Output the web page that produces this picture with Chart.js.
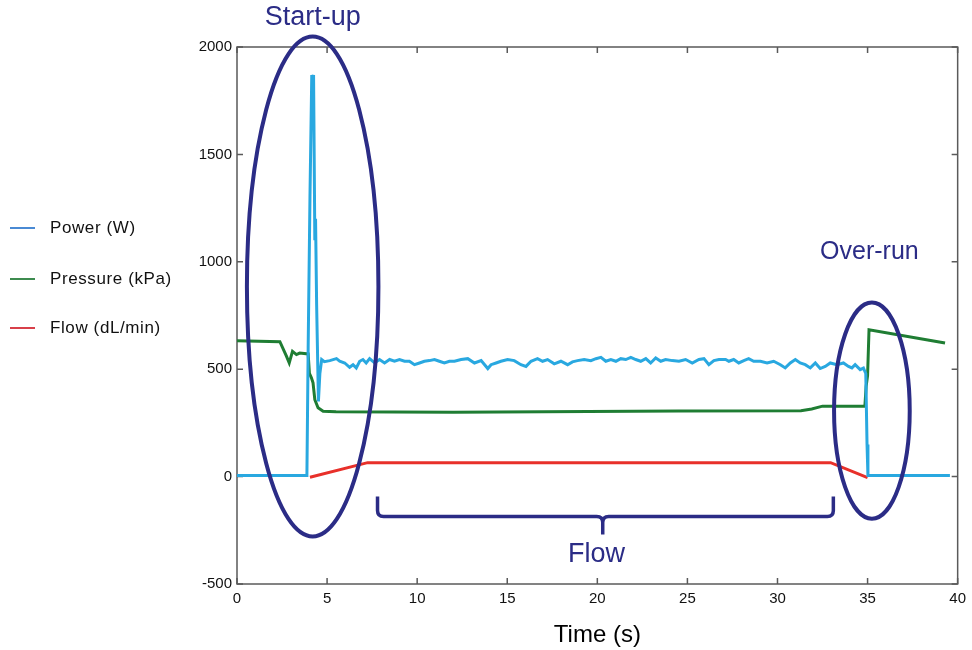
<!DOCTYPE html>
<html>
<head>
<meta charset="utf-8">
<script src="https://cdn.jsdelivr.net/npm/chart.js@4.4.1/dist/chart.umd.min.js"></script>
<style>
  html, body { margin: 0; padding: 0; background: #fff; }
  #wrap { position: relative; width: 972px; height: 650px; }
  #legend { position: absolute; left: 0; top: 0; font-family: "Liberation Sans", Arial, sans-serif;
            font-size: 17px; letter-spacing: 0.6px; color: #111; }
  .item { position: absolute; left: 10px; height: 20px; display: flex; align-items: center; white-space: nowrap; }
  .swatch { width: 25px; height: 2px; margin-right: 15px; }
</style>
</head>
<body>
<div id="wrap">
  <canvas id="chart" width="972" height="650"></canvas>
  <div id="legend"></div>
</div>
<script>
// ── Data ─────────────────────────────────────────────────────────
const xTicks = [0, 5, 10, 15, 20, 25, 30, 35, 40];
const yTicks = [-500, 0, 500, 1000, 1500, 2000];

const seriesNames = ['Power (W)', 'Pressure (kPa)', 'Flow (dL/min)'];

const powerTime = [
  0, 3.88, 3.95, 4.05, 4.15, 4.2, 4.25, 4.32, 4.36, 4.42,
  4.52, 4.6, 4.7, 4.85, 5.15, 5.52, 5.70, 5.98, 6.25, 6.44,
  6.62, 6.81, 6.99, 7.17, 7.36, 7.64, 7.91, 8.19, 8.47, 8.74,
  9.02, 9.30, 9.57, 9.85, 10.13, 10.40, 10.68, 10.96, 11.23, 11.51,
  11.79, 12.07, 12.44, 12.81, 13.18, 13.55, 13.92, 14.10, 14.38, 14.65,
  15.02, 15.39, 15.76, 16.04, 16.32, 16.68, 16.96, 17.24, 17.61, 17.98,
  18.35, 18.62, 18.90, 19.27, 19.64, 19.92, 20.20, 20.47, 20.75, 21.03,
  21.30, 21.58, 21.86, 22.13, 22.41, 22.69, 22.96, 23.24, 23.52, 23.79,
  24.16, 24.53, 24.90, 25.27, 25.64, 25.92, 26.19, 26.47, 26.75, 27.12,
  27.30, 27.57, 27.85, 28.13, 28.40, 28.68, 29.05, 29.42, 29.79, 30.16,
  30.43, 30.71, 30.99, 31.26, 31.54, 31.82, 32.10, 32.37, 32.65, 32.93,
  33.30, 33.66, 33.94, 34.13, 34.31, 34.59, 34.77, 34.90, 34.97, 35.02,
  39.57
];
const powerValue = [
  5, 5, 600, 1300, 1870, 1750, 1870, 1100, 1200, 800,
  350, 480, 545, 535, 540, 549, 537, 529, 509, 521,
  506, 537, 545, 529, 549, 529, 545, 529, 545, 537,
  545, 537, 537, 521, 529, 537, 540, 545, 537, 529,
  537, 537, 545, 549, 529, 540, 503, 521, 529, 537,
  545, 540, 521, 513, 537, 549, 537, 545, 525, 537,
  521, 534, 540, 545, 540, 549, 555, 537, 545, 537,
  549, 545, 555, 545, 537, 549, 529, 552, 537, 545,
  540, 537, 545, 529, 545, 549, 521, 540, 545, 545,
  537, 545, 529, 540, 549, 537, 537, 529, 537, 521,
  506, 529, 545, 529, 521, 506, 529, 503, 513, 529,
  521, 529, 513, 506, 521, 498, 505, 480, 150, 5,
  5
];

const pressureTime  = [0, 2.38, 2.75, 2.90, 3.08, 3.30, 3.48, 3.95, 4.02, 4.13, 4.22, 4.32, 4.50, 4.78, 5.5, 12.0, 24.5, 31.3, 31.9, 32.5, 33.0, 34.85, 34.92, 35.0, 35.08, 39.3];
const pressureValue = [633, 628, 560, 529, 583, 568, 575, 571, 480, 460, 437, 358, 320, 304, 302, 300, 305, 307, 315, 328, 327, 327, 420, 470, 684, 622];

const flowTime  = [4.05, 7.25, 32.95, 35.0];
const flowValue = [-3, 65, 65, -5];

const lineColors   = ['#29a8e0', '#1f7d33', '#e8302a'];
const legendColors = ['#4a8ad4', '#3d8b4f', '#d8404a'];
const NAVY = '#2b2c86';

// annotation shapes, in data units
const ellipses = [
  { t: 4.2, v: 885, dt: 3.65, dv: 1164 },   // start-up
  { t: 35.24, v: 307, dt: 2.1, dv: 503 },   // over-run
];
const brace = { t0: 7.8, t1: 33.1, tMid: 20.3, vTop: -93, vBar: -186, vTip: -270 };
const notes = [
  { text: 'Start-up', t: 4.2, v: 2137, size: 27 },
  { text: 'Over-run', t: 35.1, v: 1045, size: 25 },
  { text: 'Flow', t: 19.95, v: -363, size: 27 },
];

// ── Helpers ──────────────────────────────────────────────────────
const zip = (xs, ys) => xs.map((x, i) => ({ x, y: ys[i] }));

function lineSet(label, xs, ys, color) {
  return {
    label, data: zip(xs, ys),
    borderColor: color, backgroundColor: color,
    borderWidth: 3, pointRadius: 0, tension: 0, fill: false,
  };
}

// box frame + inward MATLAB-style ticks
const framePlugin = {
  id: 'frame',
  beforeDatasetsDraw(chart) {
    const { ctx, chartArea: a, scales: { x, y } } = chart;
    ctx.save();
    ctx.strokeStyle = '#5a5a5a';
    ctx.lineWidth = 1.5;
    ctx.strokeRect(a.left, a.top, a.right - a.left, a.bottom - a.top);
    const len = 6;
    ctx.beginPath();
    xTicks.forEach(t => {
      const px = x.getPixelForValue(t);
      ctx.moveTo(px, a.bottom); ctx.lineTo(px, a.bottom - len);
      ctx.moveTo(px, a.top); ctx.lineTo(px, a.top + len);
    });
    yTicks.forEach(v => {
      const py = y.getPixelForValue(v);
      ctx.moveTo(a.left, py); ctx.lineTo(a.left + len, py);
      ctx.moveTo(a.right, py); ctx.lineTo(a.right - len, py);
    });
    ctx.stroke();
    ctx.restore();
  },
};

const annotationPlugin = {
  id: 'notes',
  afterDatasetsDraw(chart) {
    const { ctx, scales: { x, y } } = chart;
    ctx.save();
    ctx.strokeStyle = NAVY;
    ctx.lineWidth = 4;
    for (const e of ellipses) {
      const cx = x.getPixelForValue(e.t), cy = y.getPixelForValue(e.v);
      const rx = x.getPixelForValue(e.t + e.dt) - cx;
      const ry = cy - y.getPixelForValue(e.v + e.dv);
      ctx.beginPath();
      ctx.ellipse(cx, cy, rx, ry, 0, 0, Math.PI * 2);
      ctx.stroke();
    }

    // curly brace under the flow phase
    const x0 = x.getPixelForValue(brace.t0), x1 = x.getPixelForValue(brace.t1);
    const xm = x.getPixelForValue(brace.tMid);
    const yt = y.getPixelForValue(brace.vTop), yb = y.getPixelForValue(brace.vBar);
    const yTip = y.getPixelForValue(brace.vTip);
    const r = 6;
    ctx.lineWidth = 3.5;
    ctx.lineJoin = 'round';
    ctx.beginPath();
    ctx.moveTo(x0, yt);
    ctx.lineTo(x0, yb - r);
    ctx.quadraticCurveTo(x0, yb, x0 + r, yb);
    ctx.lineTo(xm - r, yb);
    ctx.quadraticCurveTo(xm, yb, xm, yb + r);
    ctx.lineTo(xm, yTip);
    ctx.moveTo(xm, yb + r);
    ctx.quadraticCurveTo(xm, yb, xm + r, yb);
    ctx.lineTo(x1 - r, yb);
    ctx.quadraticCurveTo(x1, yb, x1, yb - r);
    ctx.lineTo(x1, yt);
    ctx.stroke();

    ctx.fillStyle = NAVY;
    ctx.textAlign = 'center';
    ctx.textBaseline = 'middle';
    for (const n of notes) {
      ctx.font = n.size + 'px "Liberation Sans", Arial, sans-serif';
      ctx.fillText(n.text, x.getPixelForValue(n.t), y.getPixelForValue(n.v));
    }
    ctx.restore();
  },
};

// ── Chart ────────────────────────────────────────────────────────
const tickFont = { family: '"Liberation Sans", Arial, sans-serif', size: 15 };

new Chart(document.getElementById('chart'), {
  type: 'line',
  data: {
    datasets: [
      lineSet(seriesNames[0], powerTime, powerValue, lineColors[0]),
      lineSet(seriesNames[1], pressureTime, pressureValue, lineColors[1]),
      lineSet(seriesNames[2], flowTime, flowValue, lineColors[2]),
    ],
  },
  options: {
    responsive: false,
    animation: false,
    layout: { padding: { top: 47, right: 12, left: 0, bottom: 0 } },
    plugins: { legend: { display: false }, tooltip: { enabled: false } },
    scales: {
      x: {
        type: 'linear', min: 0, max: 40,
        afterFit: s => { s.height = 66; },
        afterBuildTicks: s => { s.ticks = xTicks.map(v => ({ value: v })); },
        grid: { display: false, drawTicks: false },
        border: { display: false },
        ticks: { color: '#111', font: tickFont, padding: 6, maxRotation: 0, callback: v => String(v) },
        title: {
          display: true, text: 'Time (s)', color: '#000',
          font: { family: '"Liberation Sans", Arial, sans-serif', size: 24 },
          padding: { top: 4, bottom: 0 },
        },
      },
      y: {
        type: 'linear', min: -500, max: 2000,
        afterFit: s => { s.width = 237; },
        afterBuildTicks: s => { s.ticks = yTicks.map(v => ({ value: v })); },
        grid: { display: false, drawTicks: false },
        border: { display: false },
        ticks: { color: '#111', font: tickFont, padding: 5, callback: v => String(v) },
      },
    },
  },
  plugins: [framePlugin, annotationPlugin],
});

// legend to the left of the plot
const legendY = [228, 279, 328];
const legend = document.getElementById('legend');
seriesNames.forEach((name, i) => {
  const item = document.createElement('div');
  item.className = 'item';
  item.style.top = (legendY[i] - 10) + 'px';
  const sw = document.createElement('span');
  sw.className = 'swatch';
  sw.style.background = legendColors[i];
  const label = document.createElement('span');
  label.textContent = name;
  item.append(sw, label);
  legend.appendChild(item);
});
</script>
</body>
</html>
